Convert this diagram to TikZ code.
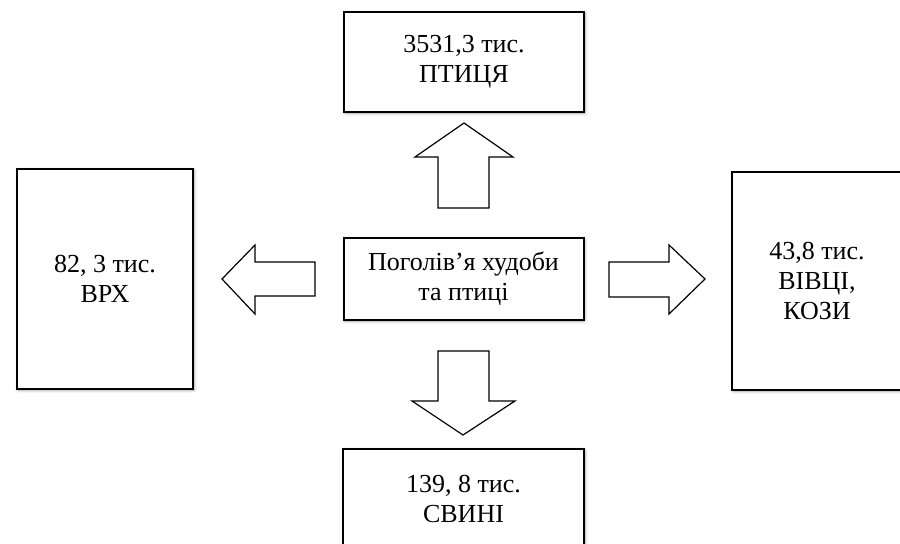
\documentclass[tikz,border=0pt]{standalone}
\usepackage{fontspec}
\setmainfont{Liberation Serif}
\usetikzlibrary{shadows.blur}
\tikzset{
  box/.style={draw, line width=1pt, fill=white, align=center, inner sep=0pt,
    font=\fontsize{13}{15}\selectfont,
    blur shadow={shadow xshift=0.6pt, shadow yshift=-0.6pt, shadow blur steps=6, shadow blur radius=1.5pt, shadow opacity=35}},
  blockarrow/.style={draw, line width=0.6pt, fill=white, line join=miter}
}
\begin{document}
\begin{tikzpicture}[x=0.5pt, y=-0.5pt]
\useasboundingbox (0,0) rectangle (900,544);
\clip (0,0) rectangle (900,544);
% boxes
\node[box, minimum width=120pt, minimum height=41pt] (herd) at (463.5,279) {Поголів’я худоби\\та птиці};
\node[box, minimum width=120pt, minimum height=50pt] (poultry) at (464,62) {3531,3 тис.\\ПТИЦЯ};
\node[box, minimum width=88pt, minimum height=110pt] (cattle) at (105,279) {82, 3 тис.\\ВРХ};
\node[box, minimum width=85pt, minimum height=109pt] (sheep) at (817,281) {43,8 тис.\\ВІВЦІ,\\КОЗИ};
\node[box, minimum width=120.5pt, minimum height=50pt] (pigs) at (463.5,499) {139, 8 тис.\\СВИНІ};
% block arrows
\draw[blockarrow] (438,208) -- (438,157) -- (415,157) -- (464,123) -- (513,157) -- (489,157) -- (489,208) -- cycle;
\draw[blockarrow] (315,262) -- (255,262) -- (255,245) -- (222,279) -- (255,314) -- (255,296) -- (315,296) -- cycle;
\draw[blockarrow] (609,262) -- (669,262) -- (669,245) -- (705,279) -- (669,314) -- (669,297) -- (609,297) -- cycle;
\draw[blockarrow] (438,351) -- (489,351) -- (489,401) -- (515,401) -- (463,435) -- (412,401) -- (438,401) -- cycle;
\end{tikzpicture}
\end{document}
